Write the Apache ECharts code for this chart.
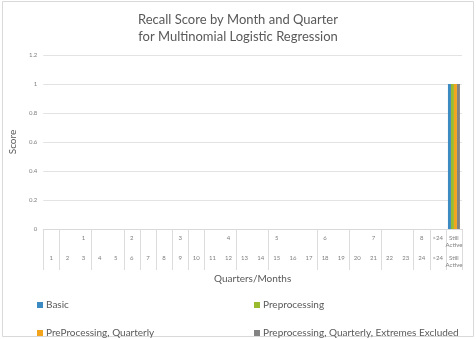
<!DOCTYPE html>
<html>
<head>
<meta charset="utf-8">
<script src="https://cdn.jsdelivr.net/npm/echarts@6/dist/echarts.min.js"></script>
<style>
  html, body { margin: 0; padding: 0; background: #fff; }
  #chart { width: 476px; height: 339px; }
</style>
</head>
<body>
<div id="chart"></div>
<script>
var months = ['1', '2', '3', '4', '5', '6', '7', '8', '9', '10', '11', '12',
    '13', '14', '15', '16', '17', '18', '19', '20', '21', '22', '23', '24', '>24', 'Still Active'];
var quarters = ['', '', '1', '', '', '2', '', '', '3', '', '', '4',
    '', '', '5', '', '', '6', '', '', '7', '', '', '8', '>24', 'Still Active'];
// separators drawn in the label area (left edge of these columns)
var separators = [0, 1, 3, 5, 6, 7, 8, 9, 10, 12, 14, 17, 19, 21, 23, 24, 25];

var basic = [0, 0, 0, 0, 0, 0, 0, 0, 0, 0, 0, 0, 0, 0, 0, 0, 0, 0, 0, 0, 0, 0, 0, 0, 0, 1];
var preprocessing = [0, 0, 0, 0, 0, 0, 0, 0, 0, 0, 0, 0, 0, 0, 0, 0, 0, 0, 0, 0, 0, 0, 0, 0, 0, 1];
var preQuarterly = [0, 0, 0, 0, 0, 0, 0, 0, 0, 0, 0, 0, 0, 0, 0, 0, 0, 0, 0, 0, 0, 0, 0, 0, 0, 1];
var preQuarterlyExcl = [0, 0, 0, 0, 0, 0, 0, 0, 0, 0, 0, 0, 0, 0, 0, 0, 0, 0, 0, 0, 0, 0, 0, 0, 0, 1];

var font = 'Lato, "Open Sans", sans-serif';
var grey = '#595959';

var myChart = echarts.init(document.getElementById('chart'));

function bar(name, data, color) {
    return {
        name: name,
        type: 'bar',
        data: data,
        barWidth: 3,
        barGap: '0%',
        itemStyle: { color: color }
    };
}

function legendItem(name, left, top) {
    return {
        data: [name],
        left: left,
        top: top,
        padding: 0,
        itemWidth: 6,
        itemHeight: 6,
        itemGap: 4,
        icon: 'rect',
        textStyle: { fontFamily: font, fontSize: 10, color: grey, padding: [0, 0, 0, -2] }
    };
}

myChart.setOption({
    animation: false,
    textStyle: { fontFamily: font },
    title: {
        text: 'Recall Score by Month and Quarter\nfor Multinomial Logistic Regression',
        left: 'center',
        top: 6,
        textStyle: { fontFamily: font, fontSize: 13, fontWeight: 'normal', color: grey, lineHeight: 17 }
    },
    graphic: [{
        type: 'rect',
        shape: { x: 2.5, y: 1.5, width: 471, height: 335 },
        style: { fill: 'none', stroke: '#d9d9d9', lineWidth: 1 },
        silent: true
    }],
    grid: { left: 40, right: 14, top: 55, bottom: 110 },
    legend: [
        legendItem('Basic', 37, 300),
        legendItem('Preprocessing', 254, 300),
        legendItem('PreProcessing, Quarterly', 37, 328),
        legendItem('Preprocessing, Quarterly, Extremes Excluded', 254, 328)
    ],
    xAxis: [{
        type: 'category',
        data: months,
        name: 'Quarters/Months',
        nameLocation: 'middle',
        nameGap: 44,
        nameTextStyle: { fontFamily: font, fontSize: 10, color: grey },
        axisLine: { lineStyle: { color: '#d9d9d9' } },
        axisTick: {
            show: true,
            length: 41,
            lineStyle: { color: '#dcdcdc' },
            interval: function (index) { return separators.indexOf(+index) >= 0; }
        },
        axisLabel: {
            interval: 0,
            margin: 26,
            fontSize: 6,
            color: '#7f7f7f',
            lineHeight: 7,
            formatter: function (v) { return v.replace(' ', '\n'); }
        }
    }, {
        type: 'category',
        data: quarters,
        position: 'bottom',
        axisLine: { show: false },
        axisTick: { show: false },
        axisLabel: {
            interval: 0,
            margin: 6,
            fontSize: 6,
            color: '#7f7f7f',
            lineHeight: 7,
            formatter: function (v) { return v.replace(' ', '\n'); }
        }
    }],
    yAxis: {
        type: 'value',
        min: 0,
        max: 1.2,
        interval: 0.2,
        name: 'Score',
        nameLocation: 'middle',
        nameGap: 14,
        nameTextStyle: { fontFamily: font, fontSize: 10, color: grey },
        axisLine: { show: false },
        axisTick: { show: false },
        axisLabel: { fontSize: 6, color: '#7f7f7f', margin: 6 },
        splitLine: { lineStyle: { color: '#e3e3e3' } }
    },
    series: [
        bar('Basic', basic, '#3b8bc2'),
        bar('Preprocessing', preprocessing, '#9bbb2e'),
        bar('PreProcessing, Quarterly', preQuarterly, '#f4a31c'),
        bar('Preprocessing, Quarterly, Extremes Excluded', preQuarterlyExcl, '#838383')
    ]
});
</script>
</body>
</html>
